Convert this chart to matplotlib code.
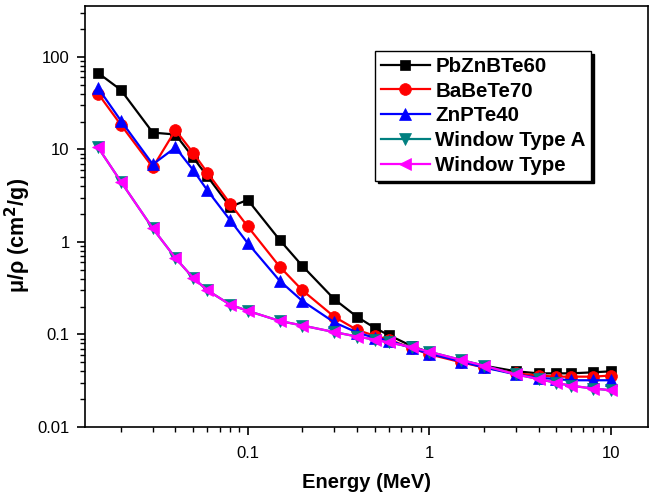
import matplotlib
matplotlib.use("Agg")
import matplotlib.pyplot as plt
from matplotlib.ticker import FixedLocator, FixedFormatter, LogLocator, NullFormatter

plt.rcParams['font.family'] = ['Liberation Sans', 'DejaVu Sans']

energy = [0.015, 0.02, 0.03, 0.04, 0.05, 0.06, 0.08, 0.1, 0.15, 0.2, 0.3, 0.4,
          0.5, 0.6, 0.8, 1, 1.5, 2, 3, 4, 5, 6, 8, 10]
pbznbte60 = [67, 44, 15.2, 14.5, 8.2, 5.1, 2.4, 2.85, 1.05, 0.55, 0.24, 0.155,
             0.118, 0.098, 0.075, 0.064, 0.052, 0.046, 0.040, 0.038, 0.038, 0.038, 0.039, 0.040]
babete70 = [40, 18.5, 6.4, 16.2, 9.2, 5.6, 2.6, 1.47, 0.54, 0.30, 0.155, 0.112,
            0.097, 0.088, 0.071, 0.061, 0.050, 0.044, 0.038, 0.036, 0.035, 0.035, 0.035, 0.036]
znpte40 = [46, 20.5, 6.9, 10.5, 6.0, 3.6, 1.72, 0.97, 0.38, 0.23, 0.135, 0.105,
           0.092, 0.086, 0.071, 0.062, 0.051, 0.044, 0.037, 0.034, 0.033, 0.032, 0.032, 0.032]
window_a = [10.5, 4.5, 1.4, 0.67, 0.41, 0.30, 0.21, 0.18, 0.14, 0.125, 0.106, 0.095,
            0.088, 0.082, 0.073, 0.065, 0.053, 0.046, 0.037, 0.033, 0.030, 0.028, 0.026, 0.025]
window = [10.5, 4.5, 1.4, 0.67, 0.41, 0.30, 0.21, 0.18, 0.14, 0.125, 0.106, 0.095,
          0.088, 0.082, 0.073, 0.065, 0.053, 0.046, 0.037, 0.033, 0.030, 0.028, 0.026, 0.025]

series = [
    ("PbZnBTe60", pbznbte60, "black", "s", 7.5),
    ("BaBeTe70", babete70, "red", "o", 8.5),
    ("ZnPTe40", znpte40, "blue", "^", 9),
    ("Window Type A", window_a, "#008080", "v", 9),
    ("Window Type", window, "#ff00ff", "<", 9),
]

fig = plt.figure(figsize=(6.52, 4.94), dpi=100)
ax = fig.add_axes([85/652, 67/494, 563/652, 421/494])

for name, vals, col, mk, ms in series:
    ax.plot(energy, vals, color=col, marker=mk, markersize=ms, linewidth=1.6,
            label=name, markeredgewidth=0.5, markeredgecolor=col)

ax.set_xscale('log')
ax.set_yscale('log')
ax.set_xlim(0.0127, 16)
ax.set_ylim(0.01, 355)

ax.xaxis.set_major_locator(FixedLocator([0.1, 1, 10]))
ax.xaxis.set_major_formatter(FixedFormatter(['0.1', '1', '10']))
ax.xaxis.set_minor_locator(LogLocator(base=10, subs=range(2, 10)))
ax.xaxis.set_minor_formatter(NullFormatter())
ax.yaxis.set_major_locator(FixedLocator([0.01, 0.1, 1, 10, 100]))
ax.yaxis.set_major_formatter(FixedFormatter(['0.01', '0.1', '1', '10', '100']))
ax.yaxis.set_minor_locator(LogLocator(base=10, subs=range(2, 10)))
ax.yaxis.set_minor_formatter(NullFormatter())

ax.tick_params(which='major', direction='out', length=6, width=1.2, labelsize=12,
               top=False, right=False)
ax.tick_params(axis='x', which='major', pad=8)
ax.tick_params(axis='y', which='major', pad=5)
ax.tick_params(which='minor', direction='out', length=3.5, width=1.0, top=False, right=False)
for sp in ax.spines.values():
    sp.set_linewidth(1.2)

ax.set_xlabel("Energy (MeV)", fontsize=14.5, fontweight='bold', labelpad=8)
ax.set_ylabel("μ/ρ (cm$\\mathbf{^2}$/g)", fontsize=15.5, fontweight='bold')
ax.yaxis.set_label_coords(-0.092, (427 - 235) / 421)

leg = ax.legend(loc='upper left', bbox_to_anchor=(0.515, 0.893), frameon=True,
                fancybox=False, shadow={'color': 'black', 'alpha': 1},
                prop={'weight': 'bold', 'size': 14.8}, handlelength=2.4,
                borderpad=0.28, labelspacing=0.28, handletextpad=0.25,
                borderaxespad=0)
leg.get_frame().set_edgecolor('black')
leg.get_frame().set_linewidth(1.0)

fig.savefig("out.png", dpi=100)
